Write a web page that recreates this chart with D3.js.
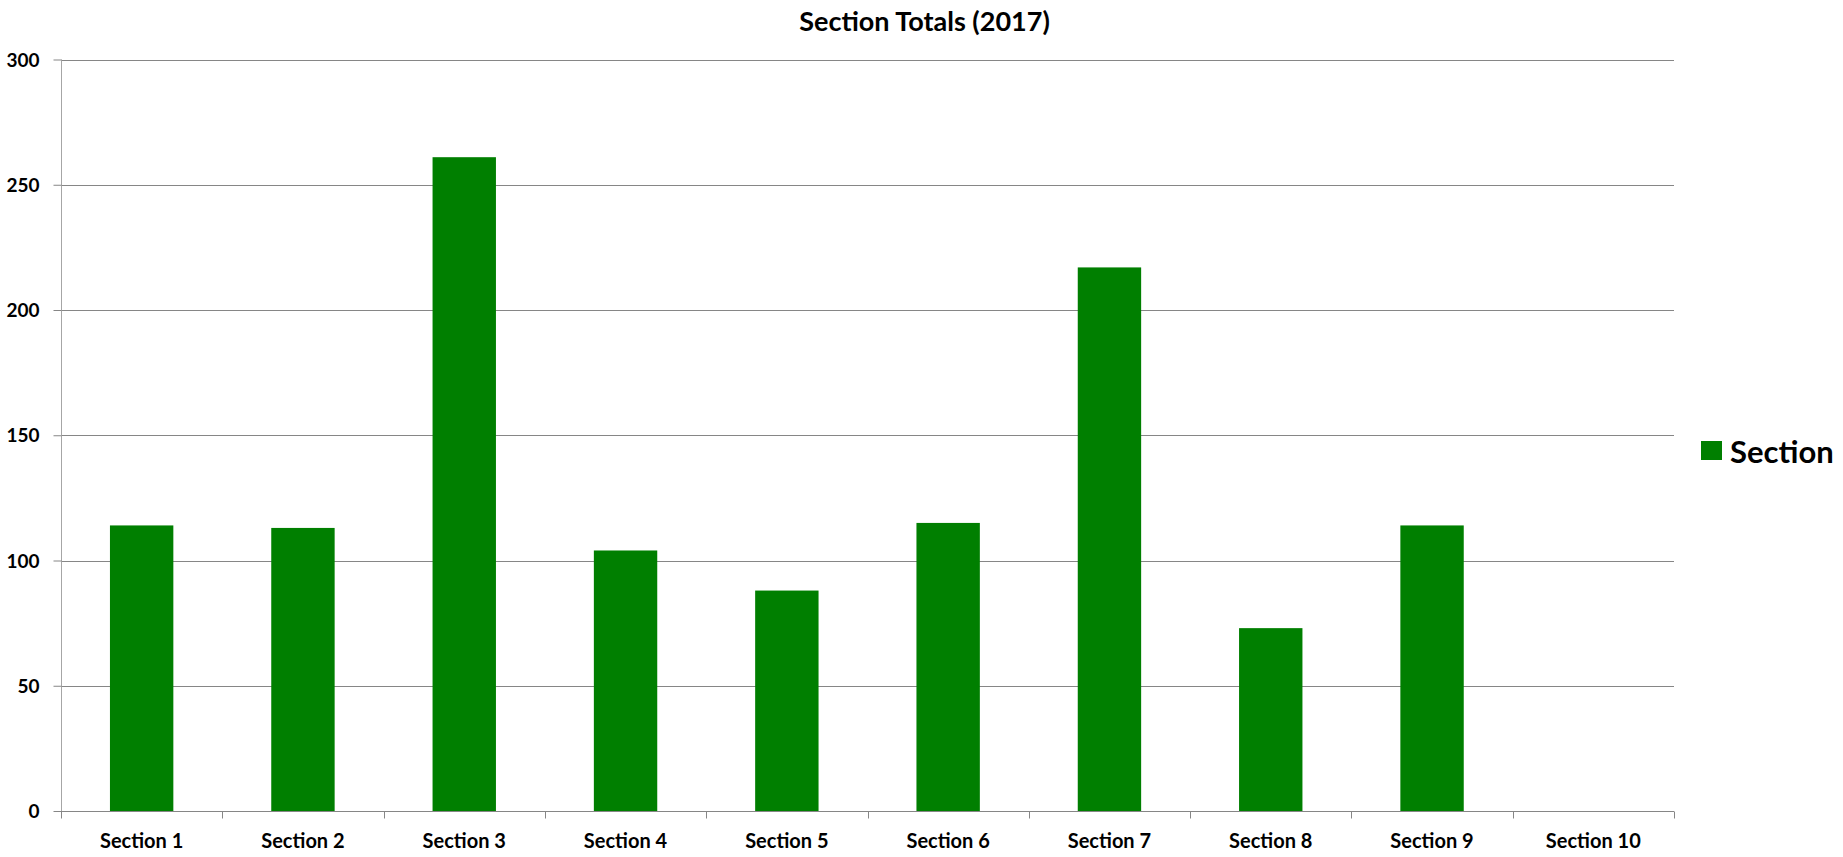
<!DOCTYPE html>
<html>
<head>
<meta charset="utf-8">
<script src="https://cdn.jsdelivr.net/npm/d3@7"></script>
<style>
  html, body { margin: 0; padding: 0; background: #fff; }
  svg { display: block; }
  text { font-family: Lato, "Open Sans", sans-serif; font-weight: bold; fill: #000; }
</style>
</head>
<body>
<svg id="chart" width="1843" height="857"></svg>
<script>
const categories = ["Section 1", "Section 2", "Section 3", "Section 4", "Section 5",
                    "Section 6", "Section 7", "Section 8", "Section 9", "Section 10"];
const sectionValues = [114, 113, 261, 104, 88, 115, 217, 73, 114, 0];
const yTicks = [0, 50, 100, 150, 200, 250, 300];
const seriesName = "Section";
const chartTitle = "Section Totals (2017)";

const svg = d3.select("#chart");
const W = 1843, H = 857;
const m = { left: 61, right: 1674, top: 59.5, bottom: 811 };
const green = "#007f00";
const gridColor = "#868686";

const x = d3.scaleBand().domain(categories).range([m.left, m.right])
  .paddingInner(0.607).paddingOuter(0.3035);
const y = d3.scaleLinear().domain([0, 300]).range([m.bottom, m.top]);

// gridlines
svg.append("g").selectAll("line").data(yTicks.filter(d => d > 0)).join("line")
  .attr("x1", m.left).attr("x2", m.right)
  .attr("y1", d => Math.round(y(d)) + 0.5).attr("y2", d => Math.round(y(d)) + 0.5)
  .attr("stroke", gridColor).attr("stroke-width", 1);

// bars
svg.append("g").selectAll("rect").data(sectionValues).join("rect")
  .attr("x", (d, i) => x(categories[i]))
  .attr("width", x.bandwidth())
  .attr("y", d => y(d))
  .attr("height", d => y(0) - y(d))
  .attr("fill", green);

// y axis
const yAxis = d3.axisLeft(y).tickValues(yTicks).tickSize(8).tickPadding(14).tickFormat(d3.format("d"));
const gy = svg.append("g").attr("transform", `translate(${m.left + 0.5},0)`).call(yAxis);
gy.select(".domain").attr("stroke", "#a6a6a6").attr("d", `M0,${m.top}V${m.bottom}`);
gy.selectAll(".tick line").attr("stroke", gridColor);
gy.selectAll(".tick text").attr("font-size", 19).attr("font-family", "Lato, sans-serif")
  .attr("font-weight", "bold").attr("fill", "#000").attr("dy", "0.35em");

// x axis
const step = x.step();
const gx = svg.append("g").attr("transform", `translate(0,${Math.round(m.bottom) + 0.5})`);
gx.append("line").attr("x1", m.left).attr("x2", m.right).attr("y1", 0).attr("y2", 0)
  .attr("stroke", gridColor);
const boundaries = d3.range(categories.length + 1).map(i => x.range()[0] + i * step);
gx.selectAll("line.tk").data(boundaries).join("line").attr("class", "tk")
  .attr("x1", d => Math.round(d) + 0.5).attr("x2", d => Math.round(d) + 0.5)
  .attr("y1", 0).attr("y2", 7).attr("stroke", gridColor);
gx.selectAll("text").data(categories).join("text")
  .attr("x", d => x(d) + x.bandwidth() / 2)
  .attr("y", 36)
  .attr("text-anchor", "middle")
  .attr("font-size", 20)
  .text(d => d);

// title
svg.append("text").attr("x", W / 2 + 3).attr("y", 31)
  .attr("text-anchor", "middle").attr("font-size", 27).text(chartTitle);

// legend
svg.append("rect").attr("x", 1701).attr("y", 441).attr("width", 21).attr("height", 19).attr("fill", green);
svg.append("text").attr("x", 1730).attr("y", 463).attr("font-size", 31).text(seriesName);
</script>
</body>
</html>
